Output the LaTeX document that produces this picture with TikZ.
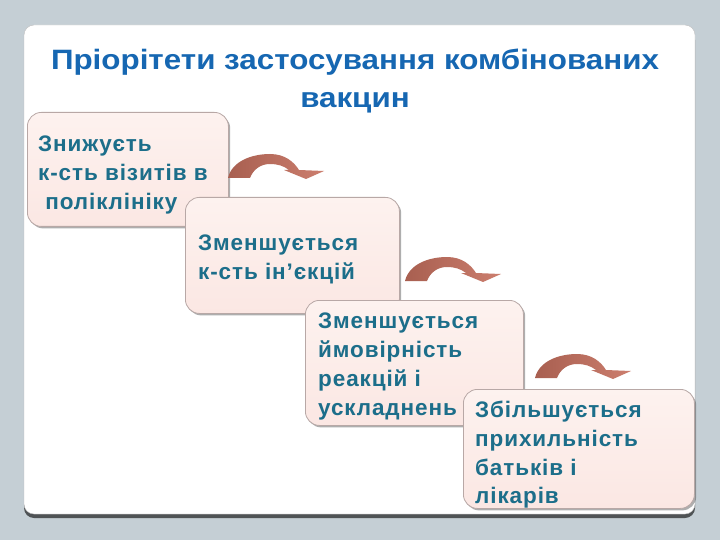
\documentclass[tikz,border=0pt]{standalone}
\usepackage{fontspec}
\setmainfont{Liberation Sans}
\newfontfamily\titlefont{Liberation Sans}[FakeStretch=1.12]
\newfontfamily\bodyfont{Liberation Sans}[LetterSpace=4]
\usetikzlibrary{shadows}
\definecolor{bgcol}{HTML}{C5CFD5}
\definecolor{titlecol}{HTML}{1667B2}
\definecolor{txtcol}{HTML}{1C6E8A}
\definecolor{boxtop}{HTML}{FDF2EF}
\definecolor{boxbot}{HTML}{FBE7E3}
\definecolor{boxedge}{HTML}{B8A8A6}
\definecolor{arrL}{HTML}{A85F50}
\definecolor{arrR}{HTML}{CC7E6E}
\tikzset{
  stepbox/.style={draw=boxedge, line width=0.8pt, top color=boxtop, bottom color=boxbot,
    rounded corners=14pt, drop shadow={shadow xshift=1.8pt, shadow yshift=-2pt, opacity=0.45, fill=black!70}},
  steptext/.style={anchor=north west, inner sep=0pt, align=left, text=txtcol,
    font=\bodyfont\bfseries\fontsize{22.5}{28.7}\selectfont},
  curvearrow/.pic={
    \path[left color=arrL, right color=arrR]
      (0,0) .. controls (4,-17) and (24,-24) .. (42,-24)
      .. controls (57,-24) and (66,-16) .. (71,-8)
      -- (96,-7) -- (78,1) -- (56,-8) -- (61,-8)
      .. controls (56,-12) and (50,-14) .. (42,-14)
      .. controls (32,-14) and (25,-8) .. (22,0) -- cycle;
  }
}
\begin{document}
\begin{tikzpicture}[x=1pt,y=-1pt]
\fill[bgcol] (0,0) rectangle (720,540);
\useasboundingbox (0,0) rectangle (720,540);
% panel
\fill[black!60!bgcol, rounded corners=10pt] (24,30) rectangle (695,518);
\fill[white, draw=black!25, rounded corners=10pt] (24,25) rectangle (695,514);
\node[text=titlecol, font=\titlefont\bfseries\fontsize{28}{38}\selectfont, align=center] (title) at (355,81)
  {Пріорітети застосування комбінованих\\вакцин};
% box 1
\node[stepbox, minimum width=201pt, minimum height=114pt, anchor=north west, inner sep=0pt] (b1) at (27,112) {};
\node[steptext] (t1) at (38,136) {Знижуєть\\к-сть візитів в\\\ поліклініку};
\pic (a1) at (228,178) {curvearrow};
% box 2
\node[stepbox, minimum width=214pt, minimum height=116pt, anchor=north west, inner sep=0pt] (b2) at (185,197) {};
\node[steptext] (t2) at (198,235) {Зменшується\\к-сть ін’єкцій};
\pic (a2) at (405,281) {curvearrow};
% box 3
\node[stepbox, minimum width=218pt, minimum height=125pt, anchor=north west, inner sep=0pt] (b3) at (305,300) {};
\node[steptext] (t3) at (318,313) {Зменшується\\ймовірність\\реакцій і\\ускладнень};
\pic (a3) at (535,378) {curvearrow};
% box 4
\node[stepbox, minimum width=231pt, minimum height=119pt, anchor=north west, inner sep=0pt] (b4) at (463,389) {};
\node[steptext] (t4) at (475,401) {Збільшується\\прихильність\\батьків і\\лікарів};
\end{tikzpicture}
\end{document}
